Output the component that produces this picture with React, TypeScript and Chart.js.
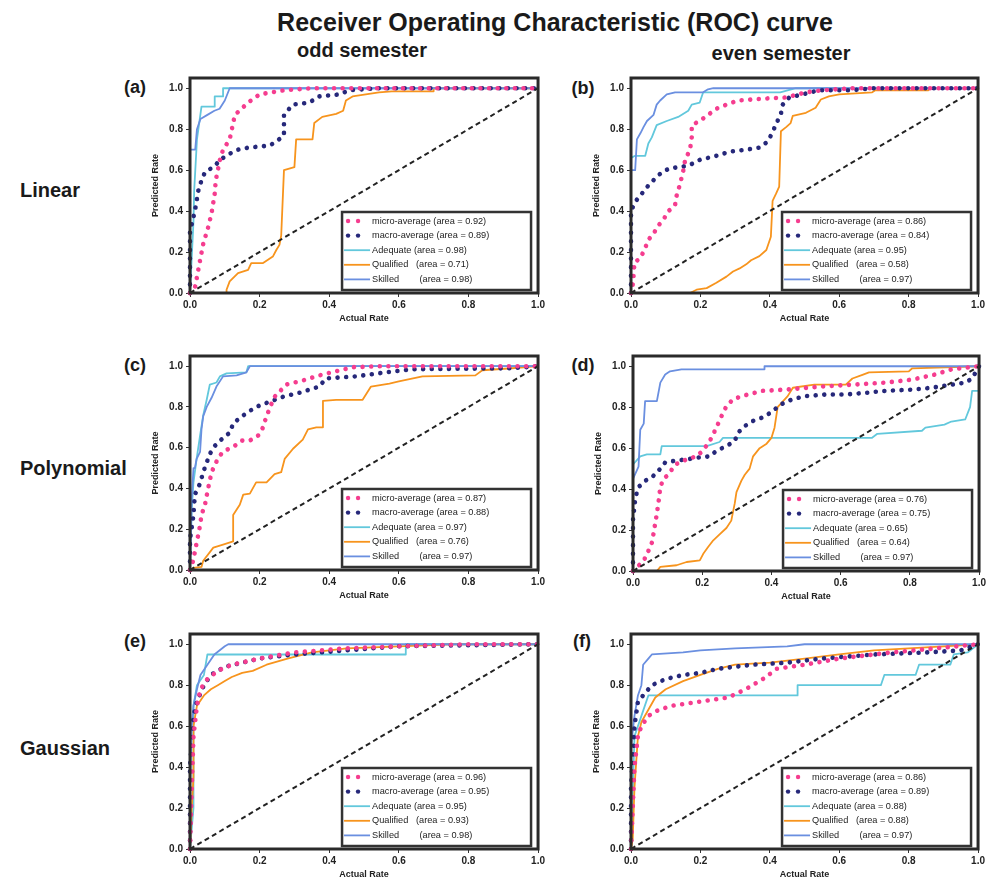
import React, { useEffect, useRef } from "react";
import { Chart, registerables } from "chart.js";

Chart.register(...registerables);

// ---------- data (fpr, tpr) ----------
const tickValues = [0, 0.2, 0.4, 0.6, 0.8, 1.0];
const seriesNames = ["micro-average", "macro-average", "Adequate", "Qualified", "Skilled"];

// (a) Linear, odd semester
const aArea = [0.92, 0.89, 0.98, 0.71, 0.98];
const aMicro = [[0,0],[0.014,0.024],[0.029,0.16],[0.038,0.24],[0.052,0.32],[0.062,0.39],[0.071,0.485],[0.074,0.55],[0.086,0.65],[0.095,0.70],[0.114,0.75],[0.129,0.87],[0.167,0.93],[0.2,0.97],[0.27,0.99],[0.35,1.0],[1,1]];
const aMacro = [[0,0],[0,0.3],[0.014,0.40],[0.024,0.5],[0.033,0.55],[0.043,0.59],[0.071,0.62],[0.086,0.65],[0.114,0.68],[0.138,0.70],[0.167,0.71],[0.229,0.72],[0.252,0.745],[0.27,0.77],[0.27,0.87],[0.295,0.92],[0.343,0.93],[0.37,0.96],[0.43,0.97],[0.457,0.99],[0.54,1.0],[1,1]];
const aAdequate = [[0,0],[0.01,0.35],[0.012,0.5],[0.02,0.75],[0.033,0.91],[0.071,0.91],[0.071,0.96],[0.095,0.96],[0.095,1.0],[1,1]];
const aQualified = [[0,0],[0.105,0],[0.105,0.016],[0.114,0.057],[0.138,0.097],[0.167,0.113],[0.176,0.146],[0.21,0.146],[0.238,0.178],[0.248,0.21],[0.257,0.235],[0.262,0.28],[0.27,0.6],[0.3,0.615],[0.305,0.75],[0.352,0.75],[0.357,0.83],[0.38,0.86],[0.42,0.875],[0.44,0.89],[0.448,0.94],[0.467,0.96],[0.543,0.98],[0.58,0.985],[0.7,0.985],[0.7,1.0],[1,1]];
const aSkilled = [[0,0],[0,0.7],[0.015,0.7],[0.02,0.8],[0.03,0.85],[0.05,0.87],[0.07,0.89],[0.085,0.9],[0.1,0.94],[0.114,1.0],[1,1]];

// (b) Linear, even semester
const bArea = [0.86, 0.84, 0.95, 0.58, 0.97];
const bMicro = [[0,0],[0.006,0.05],[0.008,0.1],[0.01,0.15],[0.027,0.17],[0.041,0.22],[0.05,0.26],[0.065,0.29],[0.079,0.33],[0.094,0.36],[0.108,0.40],[0.127,0.43],[0.132,0.48],[0.141,0.53],[0.151,0.6],[0.156,0.65],[0.17,0.70],[0.175,0.76],[0.175,0.82],[0.198,0.84],[0.222,0.87],[0.246,0.90],[0.275,0.92],[0.308,0.94],[0.39,0.95],[0.447,0.955],[0.504,0.98],[0.55,0.99],[0.637,1.0],[1,1]];
const bMacro = [[0,0],[0,0.25],[0,0.4],[0.012,0.445],[0.031,0.485],[0.05,0.525],[0.07,0.56],[0.089,0.59],[0.113,0.61],[0.146,0.615],[0.175,0.63],[0.198,0.65],[0.222,0.66],[0.246,0.67],[0.284,0.69],[0.332,0.70],[0.37,0.71],[0.394,0.74],[0.408,0.785],[0.418,0.825],[0.432,0.875],[0.437,0.92],[0.456,0.955],[0.494,0.97],[0.542,0.99],[0.637,0.99],[0.695,1.0],[1,1]];
const bAdequate = [[0,0],[0,0.66],[0.012,0.67],[0.041,0.67],[0.05,0.73],[0.06,0.76],[0.074,0.82],[0.103,0.84],[0.136,0.86],[0.165,0.89],[0.175,0.92],[0.198,0.93],[0.208,0.98],[0.43,0.98],[0.475,1.0],[1,1]];
const bQualified = [[0,0],[0.17,0],[0.189,0.016],[0.218,0.024],[0.246,0.05],[0.275,0.08],[0.294,0.105],[0.313,0.12],[0.332,0.14],[0.346,0.16],[0.37,0.18],[0.39,0.21],[0.403,0.275],[0.408,0.45],[0.418,0.485],[0.427,0.52],[0.432,0.79],[0.447,0.81],[0.46,0.83],[0.466,0.865],[0.504,0.88],[0.532,0.905],[0.547,0.945],[0.57,0.96],[0.6,0.97],[0.695,0.98],[0.704,0.99],[0.857,0.99],[0.86,1.0],[1,1]];
const bSkilled = [[0,0],[0,0.6],[0.012,0.6],[0.017,0.75],[0.027,0.78],[0.036,0.81],[0.046,0.84],[0.065,0.87],[0.074,0.92],[0.084,0.94],[0.103,0.97],[0.127,0.98],[0.208,0.98],[0.222,0.995],[0.237,1.0],[1,1]];

// (c) Polynomial, odd semester
const cArea = [0.87, 0.88, 0.97, 0.76, 0.97];
const cMicro = [[0,0],[0.01,0.05],[0.014,0.09],[0.024,0.175],[0.029,0.22],[0.033,0.27],[0.043,0.32],[0.052,0.4],[0.062,0.48],[0.081,0.55],[0.095,0.58],[0.129,0.61],[0.148,0.635],[0.172,0.635],[0.196,0.66],[0.21,0.70],[0.215,0.73],[0.229,0.795],[0.243,0.85],[0.277,0.91],[0.324,0.93],[0.372,0.955],[0.42,0.975],[0.467,0.995],[0.544,1.0],[1,1]];
const cMacro = [[0,0],[0,0.15],[0.01,0.27],[0.014,0.37],[0.029,0.425],[0.038,0.48],[0.057,0.57],[0.072,0.61],[0.09,0.64],[0.115,0.675],[0.124,0.72],[0.162,0.77],[0.19,0.80],[0.22,0.82],[0.267,0.85],[0.315,0.87],[0.372,0.90],[0.39,0.94],[0.477,0.95],[0.563,0.97],[0.64,0.985],[0.925,0.99],[1,1]];
const cAdequate = [[0,0],[0.005,0.3],[0.01,0.43],[0.019,0.545],[0.029,0.66],[0.038,0.76],[0.048,0.835],[0.057,0.91],[0.076,0.92],[0.086,0.95],[0.105,0.965],[0.162,0.97],[0.167,1.0],[1,1]];
const cQualified = [[0,0],[0.01,0.01],[0.033,0.015],[0.038,0.045],[0.067,0.11],[0.095,0.125],[0.124,0.14],[0.124,0.27],[0.143,0.32],[0.153,0.37],[0.172,0.375],[0.19,0.43],[0.22,0.43],[0.243,0.47],[0.262,0.48],[0.272,0.545],[0.296,0.595],[0.324,0.64],[0.339,0.69],[0.363,0.70],[0.382,0.70],[0.382,0.83],[0.42,0.835],[0.496,0.835],[0.52,0.90],[0.573,0.915],[0.6,0.925],[0.668,0.95],[0.82,0.955],[0.84,0.98],[0.925,0.99],[1,1]];
const cSkilled = [[0,0],[0.005,0.35],[0.01,0.5],[0.014,0.5],[0.019,0.545],[0.029,0.58],[0.033,0.69],[0.038,0.755],[0.048,0.80],[0.062,0.845],[0.076,0.9],[0.095,0.95],[0.134,0.955],[0.162,0.97],[0.172,1.0],[1,1]];

// (d) Polynomial, even semester
const dArea = [0.76, 0.75, 0.65, 0.64, 0.97];
const dMicro = [[0,0],[0.031,0.05],[0.045,0.1],[0.055,0.14],[0.059,0.18],[0.069,0.28],[0.074,0.34],[0.079,0.41],[0.088,0.45],[0.102,0.47],[0.122,0.52],[0.155,0.545],[0.184,0.56],[0.203,0.59],[0.222,0.635],[0.241,0.70],[0.251,0.74],[0.27,0.805],[0.29,0.84],[0.328,0.86],[0.375,0.88],[0.443,0.886],[0.538,0.90],[0.634,0.91],[0.73,0.92],[0.807,0.935],[0.874,0.96],[0.921,0.985],[1,1]];
const dMacro = [[0,0],[0,0.25],[0.007,0.36],[0.016,0.41],[0.035,0.44],[0.059,0.465],[0.079,0.5],[0.093,0.53],[0.126,0.54],[0.155,0.545],[0.189,0.554],[0.222,0.56],[0.241,0.587],[0.27,0.61],[0.294,0.635],[0.304,0.676],[0.323,0.708],[0.347,0.733],[0.375,0.75],[0.404,0.78],[0.423,0.81],[0.462,0.84],[0.5,0.854],[0.557,0.862],[0.615,0.862],[0.672,0.87],[0.73,0.88],[0.807,0.886],[0.864,0.895],[0.921,0.91],[0.96,0.92],[0.98,0.94],[1,1]];
const dAdequate = [[0,0],[0,0.52],[0.021,0.56],[0.04,0.57],[0.079,0.57],[0.083,0.61],[0.213,0.61],[0.25,0.63],[0.26,0.65],[0.69,0.65],[0.706,0.67],[0.835,0.685],[0.845,0.70],[0.9,0.715],[0.92,0.73],[0.96,0.74],[0.974,0.80],[0.98,0.88],[1.0,0.88],[1,1]];
const dQualified = [[0,0],[0.069,0],[0.079,0.02],[0.126,0.028],[0.155,0.044],[0.193,0.052],[0.203,0.084],[0.217,0.117],[0.232,0.15],[0.251,0.18],[0.27,0.21],[0.284,0.246],[0.294,0.33],[0.299,0.385],[0.313,0.44],[0.323,0.47],[0.337,0.50],[0.347,0.56],[0.366,0.60],[0.385,0.62],[0.4,0.65],[0.409,0.70],[0.418,0.80],[0.447,0.854],[0.462,0.895],[0.524,0.91],[0.615,0.91],[0.634,0.94],[0.663,0.958],[0.682,0.97],[0.797,0.975],[0.807,0.99],[1,1]];
const dSkilled = [[0,0],[0,0.45],[0.016,0.51],[0.021,0.69],[0.031,0.72],[0.035,0.83],[0.069,0.83],[0.079,0.92],[0.093,0.96],[0.107,0.975],[0.14,0.985],[0.38,0.985],[0.38,1.0],[1,1]];

// (e) Gaussian, odd semester
const eArea = [0.96, 0.95, 0.95, 0.93, 0.98];
const eMicro = [[0,0],[0.005,0.3],[0.01,0.55],[0.02,0.7],[0.03,0.78],[0.05,0.83],[0.08,0.87],[0.12,0.9],[0.2,0.93],[0.3,0.96],[0.45,0.98],[0.6,0.99],[0.8,1.0],[1,1]];
const eMacro = [[0,0],[0,0.4],[0.01,0.65],[0.02,0.72],[0.04,0.8],[0.06,0.85],[0.1,0.89],[0.15,0.91],[0.2,0.93],[0.3,0.95],[0.45,0.97],[0.6,0.99],[0.8,0.995],[1,1]];
const eAdequate = [[0,0],[0.01,0.2],[0.01,0.7],[0.02,0.8],[0.04,0.85],[0.05,0.95],[0.62,0.95],[0.62,1.0],[1,1]];
const eQualified = [[0,0],[0.005,0.2],[0.01,0.35],[0.01,0.6],[0.02,0.7],[0.04,0.75],[0.06,0.78],[0.08,0.8],[0.1,0.82],[0.12,0.84],[0.15,0.86],[0.18,0.87],[0.22,0.9],[0.28,0.93],[0.35,0.96],[0.45,0.98],[0.6,0.99],[0.75,1.0],[1,1]];
const eSkilled = [[0,0],[0,0.3],[0.005,0.6],[0.01,0.7],[0.02,0.78],[0.03,0.85],[0.05,0.9],[0.07,0.95],[0.1,0.99],[0.11,1.0],[1,1]];

// (f) Gaussian, even semester
const fArea = [0.86, 0.89, 0.88, 0.88, 0.97];
const fMicro = [[0,0],[0.005,0.2],[0.01,0.4],[0.02,0.55],[0.03,0.6],[0.05,0.65],[0.08,0.68],[0.12,0.7],[0.2,0.72],[0.28,0.74],[0.33,0.78],[0.38,0.83],[0.42,0.88],[0.5,0.9],[0.6,0.93],[0.75,0.96],[0.88,0.98],[1,1]];
const fMacro = [[0,0],[0,0.3],[0.01,0.6],[0.02,0.72],[0.04,0.76],[0.06,0.8],[0.1,0.83],[0.15,0.85],[0.2,0.86],[0.25,0.88],[0.35,0.9],[0.45,0.91],[0.55,0.93],[0.7,0.95],[0.85,0.96],[0.95,0.97],[1,1]];
const fAdequate = [[0,0],[0.01,0.55],[0.03,0.65],[0.05,0.75],[0.48,0.75],[0.48,0.8],[0.72,0.8],[0.73,0.85],[0.82,0.85],[0.83,0.9],[0.92,0.9],[0.93,0.95],[0.97,0.96],[1,1]];
const fQualified = [[0,0],[0.005,0.05],[0.01,0.3],[0.02,0.55],[0.03,0.62],[0.05,0.68],[0.07,0.74],[0.1,0.78],[0.15,0.82],[0.2,0.85],[0.25,0.88],[0.3,0.9],[0.4,0.91],[0.5,0.93],[0.6,0.95],[0.7,0.97],[0.8,0.98],[0.9,0.99],[1,1]];
const fSkilled = [[0,0],[0,0.5],[0.01,0.65],[0.02,0.75],[0.03,0.8],[0.035,0.9],[0.05,0.93],[0.06,0.95],[0.15,0.96],[0.2,0.97],[0.3,0.98],[0.45,0.99],[0.5,1.0],[1,1]];

const diagonal = [[0,0],[1,1]];

// ---------- styles ----------
const COLORS = ["#f53d8f", "#26287a", "#62c8dc", "#f7941d", "#6a8fe0"];
const KINDS = ["dot", "dot", "line", "line", "line"];
const PAD_NAMES = [
  "micro-average (area = ",
  "macro-average (area = ",
  "Adequate (area = ",
  "Qualified   (area = ",
  "Skilled        (area = ",
];

type Pt = number[];
interface PanelCfg {
  letter: string;
  area: number[];
  series: Pt[][];
  L: number; T: number; R: number; B: number;
}

const panels: PanelCfg[] = [
  { letter: "(a)", area: aArea, series: [aMicro, aMacro, aAdequate, aQualified, aSkilled], L: 190, T: 75, R: 541, B: 293 },
  { letter: "(b)", area: bArea, series: [bMicro, bMacro, bAdequate, bQualified, bSkilled], L: 631, T: 75, R: 981, B: 293 },
  { letter: "(c)", area: cArea, series: [cMicro, cMacro, cAdequate, cQualified, cSkilled], L: 190, T: 353, R: 541, B: 570 },
  { letter: "(d)", area: dArea, series: [dMicro, dMacro, dAdequate, dQualified, dSkilled], L: 633, T: 353, R: 982, B: 571 },
  { letter: "(e)", area: eArea, series: [eMicro, eMacro, eAdequate, eQualified, eSkilled], L: 190, T: 631, R: 541, B: 849 },
  { letter: "(f)", area: fArea, series: [fMicro, fMacro, fAdequate, fQualified, fSkilled], L: 631, T: 631, R: 981, B: 849 },
];

const YW = 52; // y-scale width
const XH = 36; // x-scale height
const PT = 6;
const PR = 6;
const FONT = "'Liberation Sans', Arial, Helvetica, sans-serif";

const framePlugin = {
  id: "frameBox",
  afterDatasetsDraw(chart: any) {
    const { ctx, chartArea: ca } = chart;
    ctx.save();
    ctx.strokeStyle = "#2a2a2a";
    ctx.lineWidth = 3;
    ctx.strokeRect(ca.left, ca.top, ca.right - ca.left, ca.bottom - ca.top);
    ctx.restore();
  },
};

const legendPlugin = {
  id: "rocLegend",
  afterDraw(chart: any) {
    const { ctx, chartArea: ca } = chart;
    const w = 189, h = 78;
    const x = ca.right - 7 - w;
    const y = ca.bottom - 3 - h;
    ctx.save();
    ctx.fillStyle = "rgba(255,255,255,0.9)";
    ctx.fillRect(x, y, w, h);
    ctx.strokeStyle = "#333";
    ctx.lineWidth = 2.5;
    ctx.strokeRect(x, y, w, h);
    const items = chart.data.datasets.filter((d: any) => d.label !== "diagonal");
    ctx.font = `9.2px ${FONT}`;
    ctx.textBaseline = "middle";
    items.forEach((ds: any, i: number) => {
      const cy = y + 9 + i * 14.6;
      if (ds._kind === "dot") {
        ctx.fillStyle = ds.borderColor;
        [x + 6, x + 16].forEach((cx) => {
          ctx.beginPath();
          ctx.arc(cx, cy, 2.2, 0, Math.PI * 2);
          ctx.fill();
        });
      } else {
        ctx.strokeStyle = ds.borderColor;
        ctx.lineWidth = 1.8;
        ctx.beginPath();
        ctx.moveTo(x + 2, cy);
        ctx.lineTo(x + 28, cy);
        ctx.stroke();
      }
      ctx.fillStyle = "#222";
      ctx.fillText(ds.label, x + 30, cy);
    });
    ctx.restore();
  },
};

function Panel({ cfg }: { cfg: PanelCfg }) {
  const ref = useRef<HTMLCanvasElement>(null);
  const width = cfg.R - cfg.L + YW + PR;
  const height = cfg.B - cfg.T + PT + XH;
  useEffect(() => {
    const datasets: any[] = [
      {
        label: "diagonal",
        data: diagonal.map(([x, y]) => ({ x, y })),
        borderColor: "#222",
        borderWidth: 2,
        borderDash: [5, 3.5],
        pointRadius: 0,
        order: 0,
        fill: false,
      },
    ];
    cfg.series.forEach((pts, i) => {
      const dot = KINDS[i] === "dot";
      datasets.push({
        label: PAD_NAMES[i] + cfg.area[i].toFixed(2) + ")",
        _kind: KINDS[i],
        data: pts.map(([x, y]) => ({ x, y })),
        borderColor: COLORS[i],
        backgroundColor: COLORS[i],
        borderWidth: dot ? 4.6 : 1.8,
        borderDash: dot ? [0.01, 8.6] : [],
        borderCapStyle: dot ? "round" : "butt",
        borderJoinStyle: "round",
        pointRadius: 0,
        tension: 0,
        fill: false,
        order: i < 2 ? i + 1 : 7 - i + 2,
      });
    });
    const axisFont = { family: FONT, size: 10, weight: "bold" as const };
    const chart = new Chart(ref.current!, {
      type: "line",
      data: { datasets },
      options: {
        animation: false,
        responsive: false,
        devicePixelRatio: 1,
        parsing: false as any,
        clip: 4 as any,
        layout: { padding: { left: 0, top: PT, right: PR, bottom: 0 } },
        plugins: { legend: { display: false }, tooltip: { enabled: false } },
        scales: {
          x: {
            type: "linear",
            min: 0,
            max: 1,
            afterFit: (s: any) => { s.height = XH; },
            afterBuildTicks: (s: any) => { s.ticks = tickValues.map((v) => ({ value: v })); },
            ticks: { font: axisFont, color: "#222", padding: 2, callback: (v: any) => Number(v).toFixed(1), maxRotation: 0 },
            grid: { drawOnChartArea: false, drawTicks: true, tickLength: 4, color: "#333" },
            border: { display: false },
            title: { display: true, text: "Actual Rate", font: { family: FONT, size: 9, weight: "bold" }, color: "#222", padding: { top: 5, bottom: 5 } },
          },
          y: {
            type: "linear",
            min: 0,
            max: 1.05,
            afterFit: (s: any) => { s.width = YW; },
            afterBuildTicks: (s: any) => { s.ticks = tickValues.map((v) => ({ value: v })); },
            ticks: { font: axisFont, color: "#222", padding: 3, callback: (v: any) => Number(v).toFixed(1) },
            grid: { drawOnChartArea: false, drawTicks: true, tickLength: 4, color: "#333" },
            border: { display: false },
            title: { display: true, text: "Predicted Rate", font: { family: FONT, size: 9, weight: "bold" }, color: "#222", padding: { top: 12, bottom: 0 } },
          },
        },
      },
      plugins: [framePlugin, legendPlugin],
    } as any);
    return () => chart.destroy();
  }, [cfg]);
  return (
    <canvas
      ref={ref}
      width={width}
      height={height}
      style={{ position: "absolute", left: cfg.L - YW, top: cfg.T - PT, width, height }}
    />
  );
}

const textBase: React.CSSProperties = {
  position: "absolute",
  fontFamily: FONT,
  fontWeight: "bold",
  color: "#1a1a1a",
  whiteSpace: "nowrap",
  lineHeight: 1,
  transform: "translate(-50%, -50%)",
};

const rowLabels = [
  { text: "Linear", y: 190 },
  { text: "Polynomial", y: 468 },
  { text: "Gaussian", y: 748 },
];
const letterPos = [
  { x: 135, y: 87 }, { x: 583, y: 88 },
  { x: 135, y: 365 }, { x: 583, y: 365 },
  { x: 135, y: 641 }, { x: 582, y: 641 },
];

export default function App() {
  return (
    <div style={{ position: "absolute", left: 0, top: 0, width: 994, height: 886, background: "#fff", overflow: "hidden" }}>
      <div style={{ ...textBase, left: 555, top: 22, fontSize: 25 }}>Receiver Operating Characteristic (ROC) curve</div>
      <div style={{ ...textBase, left: 362, top: 50, fontSize: 20 }}>odd semester</div>
      <div style={{ ...textBase, left: 781, top: 53, fontSize: 20 }}>even semester</div>
      {rowLabels.map((r) => (
        <div key={r.text} style={{ ...textBase, left: 20, top: r.y, fontSize: 20, transform: "translate(0, -50%)" }}>{r.text}</div>
      ))}
      {panels.map((p, i) => (
        <div key={p.letter} style={{ ...textBase, left: letterPos[i].x, top: letterPos[i].y, fontSize: 18 }}>{p.letter}</div>
      ))}
      {panels.map((p) => (
        <Panel key={p.letter} cfg={p} />
      ))}
    </div>
  );
}
